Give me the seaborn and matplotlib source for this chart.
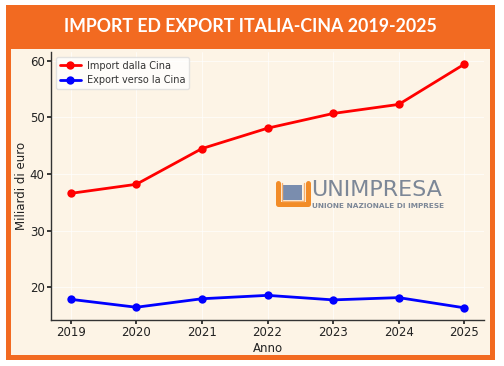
import matplotlib
matplotlib.use("Agg")
import matplotlib.pyplot as plt
import seaborn as sns
import pandas as pd
from matplotlib.patches import Rectangle

years = [2019, 2020, 2021, 2022, 2023, 2024, 2025]
import_vals = [36.6, 38.2, 44.5, 48.1, 50.7, 52.3, 59.4]
export_vals = [17.9, 16.5, 18.0, 18.6, 17.8, 18.2, 16.4]
series_names = ["Import dalla Cina", "Export verso la Cina"]
title = "IMPORT ED EXPORT ITALIA-CINA 2019-2025"

df = pd.DataFrame({
    "Anno": years * 2,
    "Valore": import_vals + export_vals,
    "Serie": [series_names[0]] * len(years) + [series_names[1]] * len(years),
})

sns.set_theme(style="whitegrid")
plt.rcParams["font.family"] = ["DejaVu Sans"]

W, H = 504, 366
fig = plt.figure(figsize=(W / 100, H / 100), dpi=100)
fig.patch.set_facecolor("white")

orange = "#F26A21"
cream = "#FDF4E6"

def px(x0, y0, x1, y1):
    return (x0 / W, 1 - y1 / H), (x1 - x0) / W, (y1 - y0) / H

xy, w, h = px(6, 5, 495, 360)
fig.patches.append(Rectangle(xy, w, h, transform=fig.transFigure, facecolor=orange, edgecolor="none", zorder=-20))
xy, w, h = px(11, 49, 490, 355)
fig.patches.append(Rectangle(xy, w, h, transform=fig.transFigure, facecolor=cream, edgecolor="none", zorder=-19))

fig.text(250 / W, 1 - 27 / H, title, ha="center", va="center", color="white",
         fontsize=12.8, fontweight="bold", family="Lato", zorder=5)

ax = fig.add_axes([51 / W, 1 - 320 / H, (484 - 51) / W, (320 - 52) / H])
ax.set_zorder(2)
ax.set_facecolor(cream)
sns.lineplot(data=df, x="Anno", y="Valore", hue="Serie", palette=["red", "blue"],
             marker="o", markersize=6, markeredgewidth=0, linewidth=2, ax=ax)

ax.set_xticks(years)
ax.set_xlabel("Anno", fontsize=8.5, color="#222222", labelpad=2)
ax.set_ylabel("Miliardi di euro", fontsize=8.5, color="#222222", labelpad=1)
ax.tick_params(axis="both", labelsize=8.5, colors="#222222", length=3, direction="out",
               left=True, bottom=True, pad=1.5)
ax.grid(True, color="white", linewidth=0.6, alpha=0.8)
for s in ["top", "right"]:
    ax.spines[s].set_visible(False)
for s in ["left", "bottom"]:
    ax.spines[s].set_color("#333333")
    ax.spines[s].set_linewidth(1.0)

leg = ax.legend(loc="upper left", fontsize=7, frameon=True, facecolor="white",
                edgecolor="#dddddd", framealpha=0.8, handlelength=2.2, borderpad=0.4,
                labelspacing=0.45, handletextpad=0.6)
for t in leg.get_texts():
    t.set_color("#333333")

# Logo
logo = fig.add_axes([272 / W, 1 - 212 / H, 180 / W, 32 / H])
logo.set_zorder(3)
logo.set_xlim(0, 180)
logo.set_ylim(32, 0)
logo.axis("off")
logo.patch.set_alpha(0)
logo.plot([5.5, 5.5, 35.5, 35.5], [3, 23.5, 23.5, 3], color="#F28C28", linewidth=3.6,
          solid_joinstyle="round")
logo.plot([9.5, 9.5, 31.5, 31.5], [3, 20.5, 20.5, 3], color="#F6B070", linewidth=1.0)
logo.add_patch(Rectangle((11, 5), 19, 15, facecolor="#7A8DAE", edgecolor="none"))
logo.text(39, 16, "UNIMPRESA", fontsize=16, color="#7C8797", va="baseline", ha="left",
          family="DejaVu Sans")
logo.text(40, 25.5, "UNIONE NAZIONALE DI IMPRESE", fontsize=5.3, color="#7C8797",
          va="center", ha="left", fontweight="bold")

fig.savefig("out.png", dpi=100, facecolor=fig.get_facecolor())
